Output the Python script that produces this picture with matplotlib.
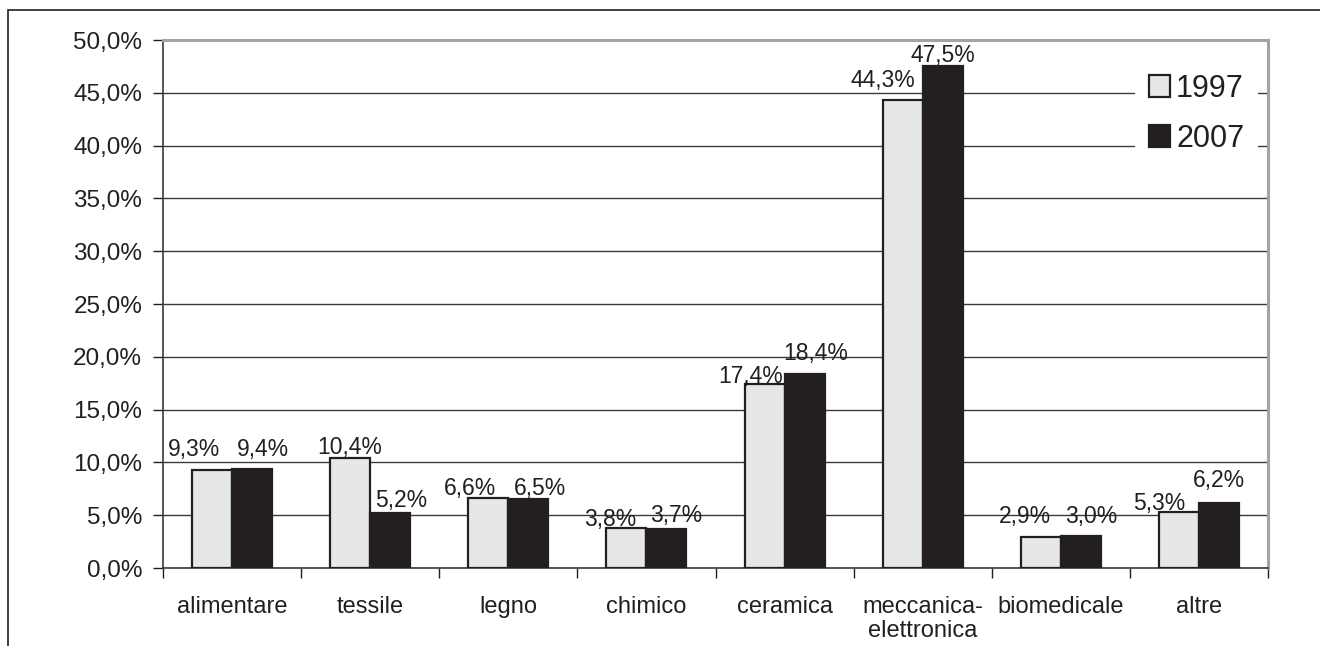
import matplotlib
matplotlib.use("Agg")
import matplotlib.pyplot as plt
import matplotlib.patches as mpatches
from matplotlib.ticker import FixedLocator, FuncFormatter
import numpy as np

plt.rcParams['font.family'] = ['Liberation Sans', 'DejaVu Sans']

categories = ["alimentare", "tessile", "legno", "chimico", "ceramica",
              "meccanica-\nelettronica", "biomedicale", "altre"]
years = ["1997", "2007"]
values_1997 = [9.3, 10.4, 6.6, 3.8, 17.4, 44.3, 2.9, 5.3]
values_2007 = [9.4, 5.2, 6.5, 3.7, 18.4, 47.5, 3.0, 6.2]

# label nudges in pixels (dx, dy above bar top)
nudge_1997 = [(-18, 14), (0, 4), (-18, 3), (-16, 2), (-14, 1), (-20, 13), (-16, 14), (-20, 2)]
nudge_2007 = [(11, 13), (11, 6), (12, 4), (10, 7), (11, 14), (0, 4), (10, 13), (0, 16)]

LIGHT = "#e6e7e8"
DARK = "#231f20"
TEXT = "#231f20"

W, H = 1320, 646
fig = plt.figure(figsize=(W / 100, H / 100), dpi=100)
ax = fig.add_axes([163 / W, 1 - 568 / H, (1268 - 163) / W, (568 - 40) / H])

# outer chart frame
fig.patches.append(mpatches.Rectangle((8 / W, -0.2), 1.2, 1.2 - 10 / H,
                                      transform=fig.transFigure, fill=False,
                                      edgecolor="#231f20", linewidth=1.2,
                                      clip_on=False))

x = np.arange(len(categories))
bw = 0.29
b1 = ax.bar(x - bw / 2, values_1997, bw, color=LIGHT, edgecolor=DARK,
            linewidth=1.6, zorder=3, label=years[0])
b2 = ax.bar(x + bw / 2, values_2007, bw, color=DARK, edgecolor=DARK,
            linewidth=1.6, zorder=3, label=years[1])

def pct(v):
    return f"{v:.1f}%".replace(".", ",")

for bars, vals, nudges in ((b1, values_1997, nudge_1997), (b2, values_2007, nudge_2007)):
    for rect, v, (dx, dy) in zip(bars, vals, nudges):
        ax.annotate(pct(v), (rect.get_x() + rect.get_width() / 2, v),
                    xytext=(dx * 0.72, dy * 0.72), textcoords="offset points",
                    ha="center", va="baseline", fontsize=16.5, color=TEXT,
                    zorder=5)

ax.set_xlim(-0.5, len(categories) - 0.5)
ax.set_ylim(0, 50)
ax.yaxis.set_major_locator(FixedLocator(np.arange(0, 50.1, 5)))
ax.yaxis.set_major_formatter(FuncFormatter(lambda v, p: pct(v)))
ax.grid(axis="y", color="#3a3a3a", linewidth=1.0, zorder=0)
ax.set_axisbelow(True)

ax.set_xticks(x)
ax.set_xticklabels(categories, linespacing=1.15)
ax.xaxis.set_minor_locator(FixedLocator(np.arange(-0.5, len(categories), 1)))
ax.tick_params(axis="x", which="major", length=0, pad=20, labelsize=17, labelcolor=TEXT)
ax.tick_params(axis="x", which="minor", length=7, width=1, color="#231f20", direction="out")
ax.tick_params(axis="y", length=7, width=1, color="#231f20", pad=8, labelsize=17.5, labelcolor=TEXT)

for s in ("left", "bottom"):
    ax.spines[s].set_color("#3a3a3a")
    ax.spines[s].set_linewidth(1.2)
for s in ("top", "right"):
    ax.spines[s].set_color("#a3a3a3")
    ax.spines[s].set_linewidth(2.2)

leg = ax.legend(handles=[b1, b2], loc="upper right",
                bbox_to_anchor=(1258 / W, 1 - 60 / H), bbox_transform=fig.transFigure,
                borderaxespad=0, frameon=True, fancybox=False, framealpha=1,
                edgecolor="none", facecolor="white", fontsize=22,
                handlelength=0.7, handleheight=0.7, handletextpad=0.2,
                labelspacing=0.65, borderpad=0.45)
for t in leg.get_texts():
    t.set_color(TEXT)
leg.set_zorder(6)

fig.savefig("out.png", dpi=100, facecolor="white")
